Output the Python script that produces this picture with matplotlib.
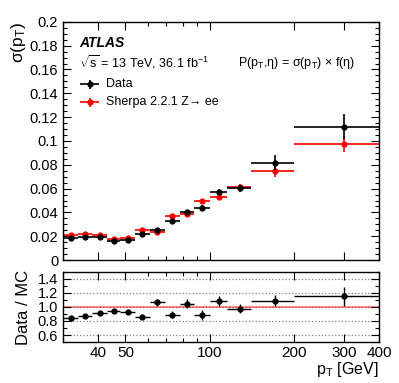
import matplotlib
matplotlib.use('Agg')
from matplotlib import pyplot as plt
from matplotlib.ticker import FixedLocator, NullFormatter, MultipleLocator
import numpy as np

plt.rcParams['font.family'] = ['Liberation Sans', 'DejaVu Sans']
plt.rcParams['mathtext.fontset'] = 'custom'
plt.rcParams['mathtext.rm'] = 'Liberation Sans'
plt.rcParams['mathtext.it'] = 'Liberation Sans:italic'

# pT bins [GeV]
bin_lo = [30, 34, 38, 43, 48, 54, 61, 69, 78, 88, 100, 115, 140, 200]
bin_hi = [34, 38, 43, 48, 54, 61, 69, 78, 88, 100, 115, 140, 200, 400]

data_sigma = [0.0182, 0.0196, 0.0193, 0.0162, 0.0171, 0.0216, 0.0252, 0.0330,
              0.0406, 0.0434, 0.0571, 0.0602, 0.0818, 0.1120]
data_err = [0.0010, 0.0010, 0.0010, 0.0010, 0.0010, 0.0012, 0.0012, 0.0015,
            0.0018, 0.0025, 0.0025, 0.0030, 0.0060, 0.0105]
mc_sigma = [0.0213, 0.0221, 0.0210, 0.0176, 0.0182, 0.0252, 0.0235, 0.0372,
            0.0387, 0.0496, 0.0527, 0.0610, 0.0750, 0.0975]
mc_err = [0.0008, 0.0008, 0.0008, 0.0008, 0.0008, 0.0010, 0.0010, 0.0012,
          0.0015, 0.0018, 0.0020, 0.0030, 0.0050, 0.0070]

ratio = [0.846, 0.874, 0.916, 0.944, 0.930, 0.852, 1.070, 0.888,
         1.047, 0.884, 1.080, 0.977, 1.090, 1.150]
ratio_err = [0.02, 0.02, 0.02, 0.02, 0.02, 0.03, 0.05, 0.05,
             0.06, 0.07, 0.07, 0.07, 0.08, 0.14]

x_ticks = [40, 50, 100, 200, 300, 400]
x_minor = [30, 60, 70, 80, 90]

lo = np.array(bin_lo, float)
hi = np.array(bin_hi, float)
xc = (lo + hi) / 2
xerr = [xc - lo, hi - xc]

fig = plt.figure(figsize=(3.99, 3.83), dpi=100)
ax = fig.add_axes([0.158, 0.321, 0.792, 0.622])
axr = fig.add_axes([0.158, 0.107, 0.792, 0.183])

ax.errorbar(xc, mc_sigma, yerr=mc_err, xerr=xerr, fmt='o', color='red',
            ms=3.5, lw=1.2, capsize=0, zorder=2)
ax.errorbar(xc, data_sigma, yerr=data_err, xerr=xerr, fmt='o', color='black',
            ms=3.5, lw=1.2, capsize=0, zorder=3)

for a in (ax, axr):
    a.set_xscale('log')
    a.set_xlim(30, 400)
    a.xaxis.set_major_locator(FixedLocator(x_ticks))
    a.xaxis.set_minor_locator(FixedLocator(x_minor))
    a.tick_params(which='both', direction='in', top=True, right=True,
                  labelsize=10.5, width=0.8)
    a.tick_params(which='major', length=6)
    a.tick_params(which='minor', length=3)
    for s in a.spines.values():
        s.set_linewidth(1.0)

ax.xaxis.set_major_formatter(NullFormatter())
ax.xaxis.set_minor_formatter(NullFormatter())
ax.set_ylim(0, 0.2)
ax.yaxis.set_minor_locator(MultipleLocator(0.005))
ax.set_yticks(np.arange(0, 0.201, 0.02))
ax.set_yticklabels(['0', '0.02', '0.04', '0.06', '0.08', '0.1', '0.12',
                    '0.14', '0.16', '0.18', '0.2'])
ax.set_ylabel(r'σ(p$_{\mathrm{T}}$)', fontsize=12.5, loc='top')

ax.text(0.05, 0.895, 'ATLAS', transform=ax.transAxes, fontsize=10,
        fontweight='bold', fontstyle='italic')
ax.text(0.05, 0.81, r'$\sqrt{\mathrm{s}}$ = 13 TeV, 36.1 fb$^{-1}$',
        transform=ax.transAxes, fontsize=9)
ax.text(0.555, 0.815, r'P(p$_{\mathrm{T}}$,η) = σ(p$_{\mathrm{T}}$) × f(η)',
        transform=ax.transAxes, fontsize=9)

# legend drawn by hand, ROOT style
ax.errorbar([0.085], [0.737], xerr=[0.03], yerr=[0.02], fmt='o', color='black',
            ms=3.5, lw=1.2, transform=ax.transAxes, clip_on=False)
ax.text(0.135, 0.737, 'Data', transform=ax.transAxes, fontsize=9, va='center')
ax.errorbar([0.085], [0.662], xerr=[0.03], yerr=[0.02], fmt='o', color='red',
            ms=3.5, lw=1.2, transform=ax.transAxes, clip_on=False)
ax.text(0.135, 0.662, 'Sherpa 2.2.1 Z→ ee', transform=ax.transAxes,
        fontsize=9, va='center')

axr.set_ylim(0.5, 1.5)
axr.set_yticks([0.6, 0.8, 1.0, 1.2, 1.4])
axr.set_yticklabels(['0.6', '0.8', '1.0', '1.2', '1.4'])
axr.yaxis.set_minor_locator(MultipleLocator(0.1))
for yv in [0.6, 0.8, 1.0, 1.2, 1.4]:
    axr.axhline(yv, color='gray', ls=':', lw=0.9, zorder=0)
axr.axhline(1.0, color='red', alpha=0.45, lw=1.5, zorder=1)
axr.errorbar(xc, ratio, yerr=ratio_err, xerr=xerr, fmt='o', color='black',
             ms=3.5, lw=1.0, capsize=0, zorder=3)
axr.set_xticklabels([str(t) for t in x_ticks])
axr.xaxis.set_minor_formatter(NullFormatter())
axr.tick_params(axis='x', which='major', labelsize=11, pad=3)
axr.set_ylabel('Data / MC', fontsize=12)
axr.set_xlabel(r'p$_{\mathrm{T}}$ [GeV]', fontsize=11.5, loc='right', labelpad=0)

ax.yaxis.set_label_coords(-0.11, 1.0)
axr.yaxis.set_label_coords(-0.10, 0.5)

fig.savefig('out.png', dpi=100)
